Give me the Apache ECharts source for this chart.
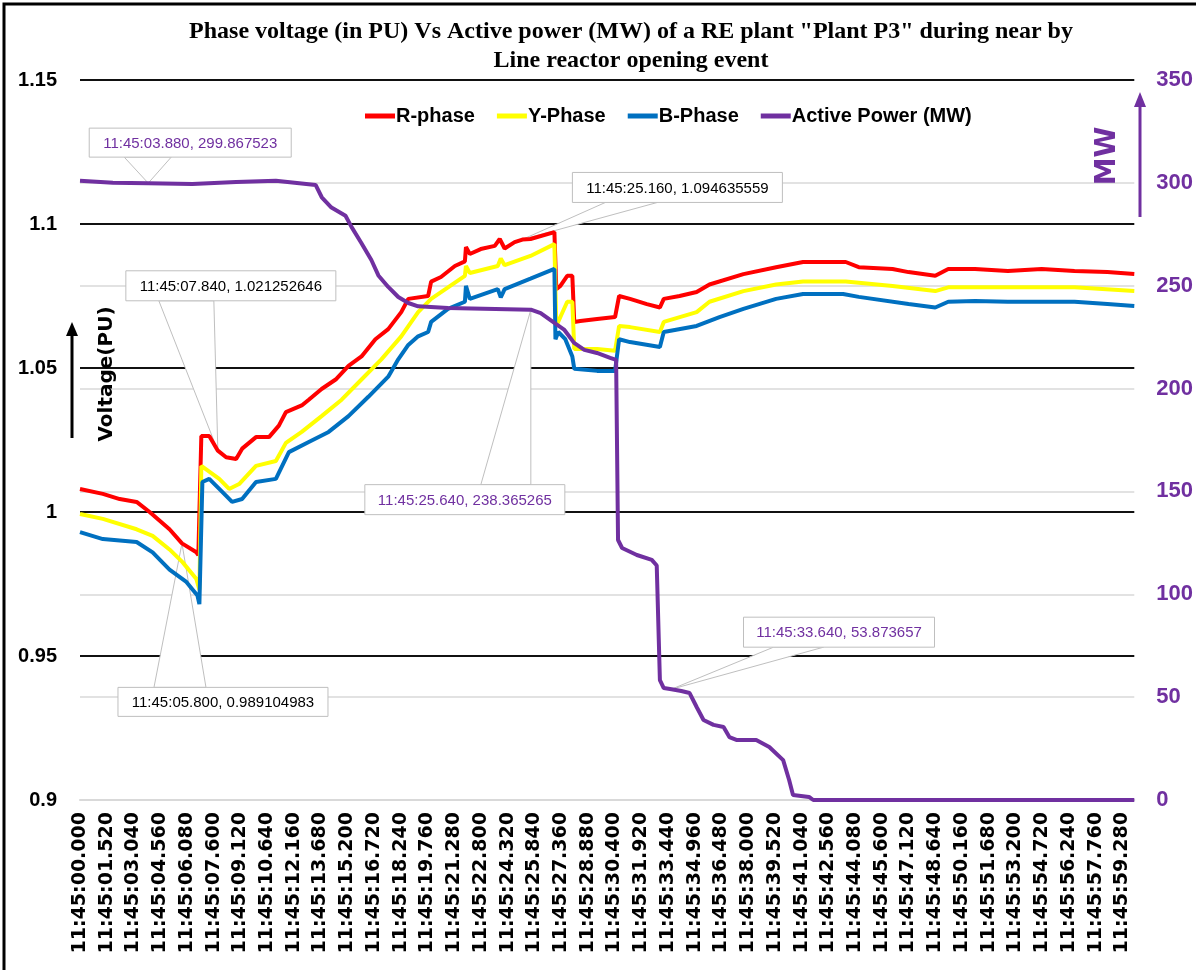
<!DOCTYPE html>
<html>
<head>
<meta charset="utf-8">
<script src="https://cdn.jsdelivr.net/npm/echarts@6/dist/echarts.min.js"></script>
<style>
html,body{margin:0;padding:0;background:#fff;}
#chart{width:1196px;height:970px;}
</style>
</head>
<body>
<div id="chart"></div>
<script>
// ---------- DATA ----------
const timeTicks = ['11:45:00.000','11:45:01.520','11:45:03.040','11:45:04.560','11:45:06.080','11:45:07.600','11:45:09.120','11:45:10.640','11:45:12.160','11:45:13.680','11:45:15.200','11:45:16.720','11:45:18.240','11:45:19.760','11:45:21.280','11:45:22.800','11:45:24.320','11:45:25.840','11:45:27.360','11:45:28.880','11:45:30.400','11:45:31.920','11:45:33.440','11:45:34.960','11:45:36.480','11:45:38.000','11:45:39.520','11:45:41.040','11:45:42.560','11:45:44.080','11:45:45.600','11:45:47.120','11:45:48.640','11:45:50.160','11:45:51.680','11:45:53.200','11:45:54.720','11:45:56.240','11:45:57.760','11:45:59.280'];
const tickStep = 1.52;          // seconds between labelled ticks
const timeEnd = 59.96;          // last sample (s after 11:45:00)

const seriesNames = ['R-phase','Y-Phase','B-Phase','Active Power (MW)'];

// [seconds after 11:45:00, voltage in PU]
const rPhase = [[0,1.008],[1.3,1.0063],[2.26,1.0045],[3.22,1.0035],[3.96,1.0],[5.09,0.994],[5.8,0.9891],[6.62,0.986],[6.73,0.985],[6.9,1.0264],[7.35,1.0264],[7.84,1.0213],[8.31,1.019],[8.88,1.0184],[9.22,1.022],[10.01,1.026],[10.75,1.026],[11.31,1.03],[11.71,1.0347],[12.61,1.037],[13.01,1.039],[13.74,1.0427],[14.54,1.046],[15.27,1.0507],[16.01,1.054],[16.8,1.06],[17.53,1.0635],[18.27,1.0694],[18.67,1.074],[19.8,1.075],[19.97,1.08],[20.53,1.0816],[21.32,1.0854],[21.89,1.087],[21.95,1.092],[22.17,1.0896],[22.79,1.0913],[23.59,1.0924],[23.87,1.0948],[24.15,1.0915],[24.72,1.0937],[25.16,1.0946],[25.62,1.0948],[26.98,1.0972],[27.09,1.0774],[27.32,1.0785],[27.71,1.082],[28.0,1.082],[28.11,1.066],[28.45,1.0663],[29.41,1.067],[30.43,1.0677],[30.66,1.075],[31.28,1.074],[32.24,1.0722],[32.98,1.071],[33.2,1.074],[34.1,1.075],[35.07,1.0764],[35.8,1.079],[37.73,1.0826],[39.59,1.085],[41.12,1.0868],[43.55,1.0868],[44.29,1.085],[46.21,1.0844],[47.12,1.0833],[48.64,1.082],[49.38,1.0844],[50.9,1.0844],[52.77,1.0837],[54.69,1.0844],[56.56,1.0837],[58.43,1.0833],[59.96,1.0826]];
const yPhase = [[0,0.9993],[1.3,0.9976],[3.22,0.994],[4.13,0.9917],[5.09,0.987],[5.83,0.9826],[6.62,0.9767],[6.79,0.973],[6.9,1.016],[7.92,1.0115],[8.48,1.008],[9.05,1.0097],[10.01,1.016],[11.14,1.0177],[11.71,1.024],[12.61,1.0278],[13.74,1.0333],[14.88,1.039],[16.01,1.046],[17.14,1.053],[18.27,1.061],[19.23,1.0694],[19.97,1.074],[21.89,1.082],[21.95,1.0854],[22.17,1.083],[23.76,1.0854],[23.93,1.088],[24.15,1.0857],[25.62,1.0889],[26.98,1.093],[27.09,1.0646],[27.71,1.073],[28.0,1.073],[28.11,1.0566],[29.41,1.0566],[30.43,1.056],[30.66,1.0646],[31.28,1.0642],[32.98,1.0625],[33.2,1.066],[35.07,1.0694],[35.8,1.073],[37.73,1.0767],[39.59,1.079],[41.12,1.08],[43.55,1.08],[46.21,1.0785],[48.64,1.0767],[49.38,1.078],[52.77,1.078],[56.56,1.078],[59.96,1.0767]];
const bPhase = [[0,0.993],[1.3,0.9906],[3.22,0.9896],[4.13,0.986],[5.09,0.98],[6.05,0.9757],[6.68,0.971],[6.79,0.968],[6.96,1.0104],[7.35,1.0115],[8.09,1.007],[8.65,1.0035],[9.22,1.0045],[10.01,1.0104],[11.14,1.0115],[11.88,1.0208],[13.01,1.0243],[14.14,1.0278],[15.27,1.0333],[16.4,1.04],[17.53,1.047],[18.1,1.053],[18.67,1.058],[19.23,1.061],[19.8,1.0625],[19.97,1.066],[20.93,1.0705],[21.89,1.073],[21.95,1.0785],[22.17,1.074],[23.76,1.0774],[23.93,1.0745],[24.15,1.0774],[25.62,1.081],[26.98,1.0844],[27.04,1.06],[27.2,1.0625],[27.6,1.06],[28.0,1.054],[28.11,1.0497],[29.41,1.049],[30.43,1.049],[30.66,1.06],[31.28,1.059],[32.98,1.0573],[33.2,1.0625],[35.07,1.0646],[36.37,1.0677],[37.73,1.0705],[39.59,1.074],[41.12,1.0757],[43.4,1.0757],[44.29,1.0747],[47.12,1.0722],[48.64,1.071],[49.38,1.073],[50.9,1.0733],[52.77,1.073],[56.56,1.073],[58.43,1.0722],[59.96,1.0715]];
// [seconds after 11:45:00, MW]
const activePower = [[0,301],[1.87,300],[3.88,299.867523],[6.39,299.5],[8.88,300.4],[11.14,301],[13.4,299],[13.75,293],[14.3,288],[15.1,284],[15.44,278.6],[16.0,270.8],[16.57,262.5],[16.97,255],[17.53,249.4],[18.1,244.5],[18.67,241.6],[19.23,240],[20.93,239.2],[25.64,238.365265],[26.2,236.7],[26.98,231.9],[27.55,228.5],[28.1,222.2],[28.68,218.8],[29.4,217.3],[30.15,214.9],[30.49,213.9],[30.6,126.4],[30.83,122.5],[31.67,119.1],[32.52,116.7],[32.8,114],[32.98,58.3],[33.2,54.4],[33.64,53.873657],[34.2,53],[34.67,52],[35.07,45.2],[35.46,38.9],[36.03,36.5],[36.6,35.5],[36.93,30.6],[37.33,29.2],[38.46,29.2],[39.2,25.8],[39.99,19.4],[40.33,9.7],[40.55,2.4],[41.46,1.5],[41.7,0],[59.96,0]];

// callout annotations: which axis, time, value, text
const callouts = [
  {axis:1, t:3.88,  v:299.867523,  text:'11:45:03.880, 299.867523'},
  {axis:0, t:7.84,  v:1.021252646, text:'11:45:07.840, 1.021252646'},
  {axis:0, t:25.16, v:1.094635559, text:'11:45:25.160, 1.094635559'},
  {axis:1, t:25.64, v:238.365265,  text:'11:45:25.640, 238.365265'},
  {axis:1, t:33.64, v:53.873657,   text:'11:45:33.640, 53.873657'},
  {axis:0, t:5.80,  v:0.989104983, text:'11:45:05.800, 0.989104983'}
];
// ---------- LAYOUT / STYLE ----------
const calloutLayout = [
  {dx:-59, dy:-55, w:202, h:29, b1:-24, b2:23, side:'bottom'},
  {dx:-92, dy:-180, w:210, h:30, b1:-59, b2:-4, side:'bottom'},
  {dx:50, dy:-67, w:210, h:30, b1:83, b2:135, side:'bottom'},
  {dx:-166, dy:175, w:200, h:30, b1:-50, b2:0, side:'top'},
  {dx:72, dy:-72, w:191, h:30, b1:102, b2:152, side:'bottom'},
  {dx:-64, dy:144, w:210, h:29, b1:-28, b2:24, side:'top'}
];
const PURPLE = '#7030A0';
const colors = ['#FF0000','#FFFF00','#0070C0',PURPLE];

const chart = echarts.init(document.getElementById('chart'), null, {renderer:'canvas'});

const option = {
  animation:false,
  backgroundColor:'#fff',
  color: colors,
  grid:{left:80, right:56, top:80, bottom:170, containLabel:false},
  legend:{
    data: seriesNames,
    top: 101, left: 360,
    icon:'rect', itemWidth:30, itemHeight:5, itemGap:22,
    textStyle:{fontFamily:'Liberation Sans', fontWeight:'bold', fontSize:20, color:'#000', padding:[0,0,0,-4]}
  },
  xAxis:{
    type:'value', min:0, max:timeEnd, interval:tickStep,
    axisLine:{show:true, lineStyle:{color:'#d9d9d9', width:2}},
    axisTick:{show:false},
    splitLine:{show:false},
    axisLabel:{
      rotate:90, margin:12, color:'#000',
      fontFamily:'DejaVu Sans', fontWeight:'bold', fontSize:19,
      showMaxLabel:false,
      formatter:function(v){
        const k = Math.round(v/tickStep);
        if (Math.abs(v-k*tickStep) > 0.01 || k >= timeTicks.length) return '';
        return timeTicks[k];
      }
    }
  },
  yAxis:[
    {type:'value', min:0.9, max:1.15, interval:0.05, position:'left',
     axisLine:{show:false}, axisTick:{show:false},
     axisLabel:{margin:23, color:'#000', fontFamily:'Liberation Sans', fontWeight:'bold', fontSize:20},
     splitLine:{show:true, lineStyle:{color:['#d9d9d9','#111','#111','#111','#111','#111'], width:2}}
    },
    {type:'value', min:0, max:350, interval:50, position:'right',
     axisLine:{show:false}, axisTick:{show:false},
     axisLabel:{margin:22, color:PURPLE, fontFamily:'Liberation Sans', fontWeight:'bold', fontSize:22},
     splitLine:{show:true, lineStyle:{color:['#d9d9d9','#d9d9d9','#d9d9d9','#d9d9d9','#d9d9d9','#d9d9d9','#d9d9d9','rgba(0,0,0,0)'], width:1.5}}
    }
  ],
  series:[
    {name:seriesNames[0], type:'line', yAxisIndex:0, data:rPhase, showSymbol:false, lineStyle:{width:4, color:colors[0]}, z:2},
    {name:seriesNames[1], type:'line', yAxisIndex:0, data:yPhase, showSymbol:false, lineStyle:{width:4, color:colors[1]}, z:2},
    {name:seriesNames[2], type:'line', yAxisIndex:0, data:bPhase, showSymbol:false, lineStyle:{width:4, color:colors[2]}, z:2},
    {name:seriesNames[3], type:'line', yAxisIndex:1, data:activePower, showSymbol:false, lineStyle:{width:4, color:colors[3]}, z:2}
  ]
};
chart.setOption(option);

// ---------- decorations & callouts ----------
const g = [];
g.push({type:'text', z:20, style:{
  text:'Phase voltage (in PU) Vs Active power (MW) of a RE plant "Plant P3" during near by\nLine reactor opening event',
  x:631, y:17, textAlign:'center', textVerticalAlign:'top',
  font:'bold 24px "Liberation Serif"', lineHeight:29, fill:'#000'}});
// frame
g.push({type:'polyline', z:20, shape:{points:[[4,970],[4,4],[1196,4]]}, style:{stroke:'#000', lineWidth:3, fill:null}});
// Voltage(PU) label + arrow
g.push({type:'text', z:20, x:107, y:374, rotation:Math.PI/2, style:{
  text:'Voltage(PU)', x:0, y:0, textAlign:'center', textVerticalAlign:'middle',
  font:'bold 20px "DejaVu Sans"', fill:'#000'}});
g.push({type:'line', z:20, shape:{x1:72, y1:438, x2:72, y2:332}, style:{stroke:'#000', lineWidth:3}});
g.push({type:'polygon', z:20, shape:{points:[[66,336],[78,336],[72,322]]}, style:{fill:'#000'}});
// MW label + arrow
g.push({type:'text', z:20, x:1108, y:156, rotation:Math.PI/2, style:{
  text:'MW', x:0, y:0, textAlign:'center', textVerticalAlign:'middle',
  font:'bold 28px "DejaVu Sans"', fill:PURPLE}});
g.push({type:'line', z:20, shape:{x1:1140, y1:217, x2:1140, y2:104}, style:{stroke:PURPLE, lineWidth:3}});
g.push({type:'polygon', z:20, shape:{points:[[1134,107],[1146,107],[1140,92]]}, style:{fill:PURPLE}});

callouts.forEach(function(c, i){
  const L = calloutLayout[i];
  const p = chart.convertToPixel({xAxisIndex:0, yAxisIndex:c.axis}, [c.t, c.v]);
  const bx = p[0] + L.dx, by = p[1] + L.dy;
  const baseY = L.side === 'bottom' ? by + L.h : by;
  g.push({type:'polygon', z:1, shape:{points:[[p[0]+L.b1, baseY],[p[0]+L.b2, baseY],[p[0], p[1]]]},
          style:{fill:'#fff', stroke:'#bfbfbf', lineWidth:1}});
  g.push({type:'rect', z:10, shape:{x:bx, y:by, width:L.w, height:L.h},
          style:{fill:'#fff', stroke:'#bfbfbf', lineWidth:1}});
  g.push({type:'text', z:11, style:{text:c.text, x:bx+L.w/2, y:by+L.h/2+1, textAlign:'center', textVerticalAlign:'middle',
          font:'15px "Liberation Sans"', fill: c.axis === 1 ? PURPLE : '#000'}});
});
chart.setOption({graphic:{elements:g}});
</script>
</body>
</html>
